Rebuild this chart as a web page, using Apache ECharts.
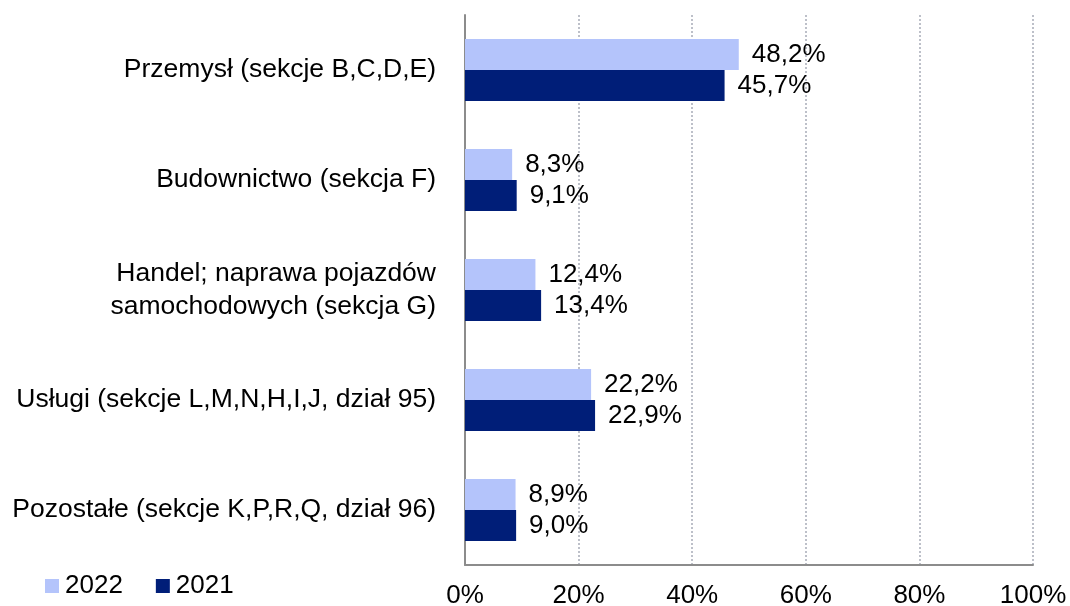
<!DOCTYPE html>
<html><head><meta charset="utf-8">
<script src="https://cdn.jsdelivr.net/npm/echarts@6/dist/echarts.min.js"></script>
<style>html,body{margin:0;padding:0;background:#fff}#c{width:1070px;height:606px}</style>
</head><body><div id="c"></div>
<script>
const categories = [
  'Przemysł (sekcje B,C,D,E)',
  'Budownictwo (sekcja F)',
  'Handel; naprawa pojazdów\nsamochodowych (sekcja G)',
  'Usługi (sekcje L,M,N,H,I,J, dział 95)',
  'Pozostałe (sekcje K,P,R,Q, dział 96)'
];
const values2022 = [48.2, 8.3, 12.4, 22.2, 8.9];
const values2021 = [45.7, 9.1, 13.4, 22.9, 9.0];
const seriesNames = ['2022', '2021'];
const xTicks = [0, 20, 40, 60, 80, 100];

const FONT = '"Liberation Sans", Arial, sans-serif';
const fmt = v => v.toFixed(1).replace('.', ',') + '%';
const chart = echarts.init(document.getElementById('c'));
const labelCfg = {
  show: true, position: 'right', distance: 13,
  fontFamily: FONT, fontSize: 26, color: '#000',
  formatter: p => fmt(p.value)
};
chart.setOption({
  animation: false,
  grid: { left: 465, right: 37, top: 15, bottom: 41, containLabel: false, outerBoundsMode: 'none' },
  legend: {
    left: 40, top: 568, itemWidth: 14, itemHeight: 14, itemGap: 33,
    icon: 'rect',
    textStyle: { fontFamily: FONT, fontSize: 26, color: '#000', padding: [0, 0, 0, 1] },
    data: seriesNames
  },
  xAxis: {
    type: 'value', min: xTicks[0], max: xTicks[xTicks.length - 1], interval: 20,
    axisLine: { show: true, lineStyle: { color: '#8c8c8c', width: 2 } },
    axisTick: { show: false },
    splitLine: { show: true, lineStyle: { color: '#a8acb8', type: [2, 2], width: 1.5 } },
    axisLabel: { fontFamily: FONT, fontSize: 26, color: '#000', margin: 18, formatter: v => v + '%' }
  },
  yAxis: {
    type: 'category', inverse: true, data: categories,
    axisLine: { show: true, lineStyle: { color: '#8c8c8c', width: 2 } },
    axisTick: { show: false },
    axisLabel: { fontFamily: FONT, fontSize: 26.5, color: '#000', margin: 29, lineHeight: 33 }
  },
  series: [
    { name: seriesNames[0], type: 'bar', data: values2022, barWidth: 31, barGap: '0%',
      itemStyle: { color: '#b4c4fb' }, label: labelCfg },
    { name: seriesNames[1], type: 'bar', data: values2021, barWidth: 31, barGap: '0%',
      itemStyle: { color: '#001e78' }, label: labelCfg }
  ]
});
</script></body></html>
